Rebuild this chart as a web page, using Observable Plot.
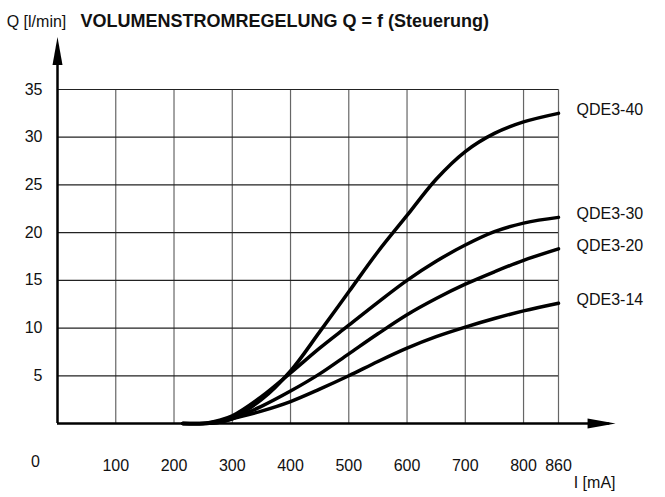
<!DOCTYPE html>
<html>
<head>
<meta charset="utf-8">
<script src="https://cdn.jsdelivr.net/npm/d3@7"></script>
<script src="https://cdn.jsdelivr.net/npm/@observablehq/plot@0.6"></script>
<style>
  html, body { margin: 0; padding: 0; background: #fff; }
  #chart svg { display: block; background: #fff; }
</style>
</head>
<body>
<div id="chart"></div>
<script>
// ---- data ----
const current = [215, 250, 275, 300, 350, 400, 450, 500, 550, 600, 650, 700, 750, 800, 860];
const seriesNames = ["QDE3-40", "QDE3-30", "QDE3-20", "QDE3-14"];
const qde340 = [0, 0, 0.2, 0.6, 2.5, 5.5, 9.6, 13.8, 18.0, 21.8, 25.6, 28.5, 30.4, 31.6, 32.5];
const qde330 = [0, 0, 0.3, 0.8, 2.8, 5.3, 7.9, 10.3, 12.7, 15.0, 17.0, 18.7, 20.1, 21.0, 21.6];
const qde320 = [0, 0, 0.1, 0.5, 1.8, 3.4, 5.2, 7.3, 9.4, 11.4, 13.1, 14.6, 15.9, 17.1, 18.3];
const qde314 = [0, 0, 0.1, 0.5, 1.3, 2.3, 3.6, 5.0, 6.5, 7.9, 9.1, 10.1, 11.0, 11.8, 12.6];
const xTicks = [100, 200, 300, 400, 500, 600, 700, 800, 860];
const yTicks = [5, 10, 15, 20, 25, 30, 35];
const xGrid = [100, 200, 300, 400, 500, 600, 700, 800, 860];
const yGrid = [5, 10, 15, 20, 25, 30, 35];
const xAxisEnd = 958;   // arrow tip of current axis (mA)
const yAxisEnd = 40.5;  // arrow tip of flow axis (l/min)
const title = "VOLUMENSTROMREGELUNG Q = f (Steuerung)";
const yLabel = "Q [l/min]";
const xLabel = "I [mA]";

// ---- build table ----
const allValues = [qde340, qde330, qde320, qde314];
const rows = [];
seriesNames.forEach((name, k) => {
  current.forEach((c, i) => rows.push({series: name, I: c, Q: allValues[k][i]}));
});
const ends = seriesNames.map((name, k) => ({series: name, I: current[current.length - 1], Q: allValues[k][allValues[k].length - 1]}));

const arrowHead = {
  draw(context) {
    context.moveTo(0, 0);
    context.lineTo(-5, 28);
    context.lineTo(5, 28);
    context.closePath();
  }
};

const font = "Liberation Sans, Arial, Helvetica, sans-serif";

const chart = Plot.plot({
  width: 665,
  height: 497,
  marginLeft: 57,
  marginRight: 107,
  marginTop: 89,
  marginBottom: 74,
  x: {domain: [0, 860]},
  y: {domain: [0, 35]},
  style: {fontFamily: font, fontSize: "16px", color: "#111", background: "#fff"},
  marks: [
    Plot.ruleX(xGrid, {y1: 0, y2: 35, stroke: "#666", strokeWidth: 1.2}),
    Plot.ruleY(yGrid, {x1: 0, x2: 860, stroke: "#222", strokeWidth: 1.2}),
    Plot.axisX(xTicks, {tickSize: 0, tickPadding: 36, fontSize: 16, label: null}),
    Plot.axisY(yTicks, {tickSize: 0, tickPadding: 15, fontSize: 16, label: null}),
    // axis lines with arrows
    Plot.ruleX([0], {y1: 0, y2: yAxisEnd - 1, stroke: "#000", strokeWidth: 2.5}),
    Plot.ruleY([0], {x1: 0, x2: xAxisEnd - 10, stroke: "#000", strokeWidth: 2.5}),
    Plot.dot([{x: 0, y: yAxisEnd}], {x: "x", y: "y", symbol: arrowHead, fill: "#000", stroke: null, r: 5}),
    Plot.dot([{x: xAxisEnd, y: 0}], {x: "x", y: "y", symbol: arrowHead, fill: "#000", stroke: null, r: 5, rotate: 90}),
    // curves
    Plot.line(rows, {x: "I", y: "Q", z: "series", stroke: "#000", strokeWidth: 3.5, curve: "catmull-rom"}),
    Plot.text(ends, {x: "I", y: "Q", text: "series", dx: 18, dy: -3, textAnchor: "start", fontSize: 16, fill: "#111"}),
    // texts
    Plot.text([xLabel], {frameAnchor: "bottom-right", dx: 57, dy: 64, textAnchor: "end", fontSize: 16, fill: "#111"}),
    Plot.text(["0"], {frameAnchor: "bottom-left", dx: -22, dy: 43, textAnchor: "middle", fontSize: 16, fill: "#111"}),
    Plot.text([yLabel], {frameAnchor: "top-left", dx: -21, dy: -74, textAnchor: "middle", fontSize: 16, fill: "#111"}),
    Plot.text([title], {frameAnchor: "top-left", dx: 23, dy: -75, textAnchor: "start", fontSize: 18, fontWeight: "bold", fill: "#111"})
  ]
});
document.getElementById("chart").appendChild(chart);
</script>
</body>
</html>
